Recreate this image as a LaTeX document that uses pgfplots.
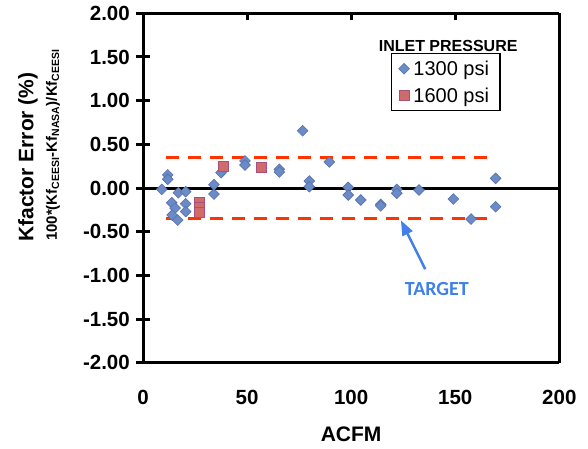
\documentclass[border=0pt]{standalone}
\usepackage{pgfplots}
\pgfplotsset{compat=1.18}
\usepackage{fontspec}
\setmainfont{Liberation Sans}
\newfontfamily\calibri{Carlito}
\usetikzlibrary{arrows.meta}
\definecolor{ptblue}{HTML}{6B8BC6}
\definecolor{ptblueedge}{HTML}{5770AE}
\definecolor{ptred}{HTML}{CF6B6B}
\definecolor{ptrededge}{HTML}{A8507A}
\definecolor{tgtred}{HTML}{FF3300}
\definecolor{tgtblue}{HTML}{4080E8}

\begin{document}
\begin{tikzpicture}
\useasboundingbox (-143pt,-85.3pt) rectangle (445pt,362.7pt);
\begin{axis}[
  at={(0pt,0pt)}, anchor=south west,
  scale only axis, width=416.3pt, height=349.4pt,
  xmin=0, xmax=200, ymin=-2, ymax=2,
  separate axis lines,
  axis line style={line width=3pt, black},
  xtick={0,50,100,150,200}, xticklabels={0,50,100,150,200},
  ytick={-2,-1.5,-1,-0.5,0,0.5,1,1.5,2},
  yticklabels={-2.00,-1.50,-1.00,-0.50,0.00,0.50,1.00,1.50,2.00},
  ytick pos=left, xtick pos=bottom,
  tick align=center, major tick length=14pt,
  major tick style={line width=3pt, black},
  x tick style={draw=none},
  ticklabel style={font=\fontsize{20.5}{22}\selectfont\bfseries},
  xticklabel style={anchor=center, yshift=-28pt},
  yticklabel style={anchor=east, inner sep=0pt, xshift=-6pt},
  xlabel={ACFM},
  xlabel style={font=\fontsize{21}{24}\selectfont\bfseries, at={(axis description cs:0.5,-0.206)}, anchor=center},
  legend style={at={(rel axis cs:0.596,0.886)}, anchor=north west, draw=black, line width=1.2pt,
    font=\fontsize{20}{22}\selectfont, inner xsep=7pt, inner ysep=5pt, row sep=7pt,
    nodes={inner xsep=4pt}},
  legend cell align=left,
]
% zero line with crossing ticks
\draw[line width=3pt] (axis cs:0,0) -- (axis cs:200,0);
\draw[line width=3pt] (axis cs:50,0) ++(0,-7pt) -- ++(0,14pt);
\draw[line width=3pt] (axis cs:100,0) ++(0,-7pt) -- ++(0,14pt);
\draw[line width=3pt] (axis cs:150,0) ++(0,-7pt) -- ++(0,14pt);
\draw[line width=3pt] (axis cs:200,0) ++(0,-7pt) -- ++(0,14pt);

% target band
\addplot[forget plot, tgtred, line width=3pt, dash pattern=on 13pt off 9pt]
  coordinates {(11,0.35) (169.5,0.35)};
\addplot[forget plot, tgtred, line width=3pt, dash pattern=on 13pt off 9pt]
  coordinates {(11,-0.35) (169.5,-0.35)};

\addplot[only marks, mark=square*, mark size=3.8pt,
  mark options={rotate=45, fill=ptblue, draw=ptblueedge, line width=0.6pt}]
  coordinates {
  (9,-0.015) (11.9,0.15) (11.9,0.10) (17,-0.054) (20.5,-0.042)
  (13.8,-0.168) (15.4,-0.23) (20.5,-0.18) (20.5,-0.27) (14,-0.31)
  (16.7,-0.367) (34.1,0.038) (34.1,-0.069) (37.5,0.175) (49,0.31)
  (49,0.263) (65.5,0.214) (65.5,0.183) (76.7,0.656) (79.9,0.08)
  (79.9,0.015) (89.5,0.298) (98.6,0.008) (98.6,-0.08) (104.6,-0.137)
  (114.2,-0.187) (114.2,-0.205) (121.9,-0.015) (121.9,-0.06) (132.6,-0.023)
  (149.1,-0.126) (157.6,-0.355) (169.4,0.11) (169.4,-0.214)
  };
\addlegendentry{1300 psi}
\addplot[only marks, mark=square*, mark size=5pt,
  mark options={fill=ptred, draw=ptrededge, line width=1pt}]
  coordinates {(27,-0.17) (27,-0.22) (27,-0.28) (38.6,0.25) (57,0.23)};
\addlegendentry{1600 psi}

\node[font=\fontsize{16}{18}\selectfont\bfseries] at (rel axis cs:0.733,0.906) {INLET PRESSURE};
\draw[tgtblue, line width=2.5pt, -{Triangle[length=15pt,width=11pt]}]
  (axis cs:135.6,-0.93) -- (axis cs:123.9,-0.37);
\node[font=\calibri\bfseries\fontsize{20}{24}\selectfont, text=tgtblue] at (axis cs:141.2,-1.16) {TARGET};
\end{axis}
\node[rotate=90, font=\fontsize{21}{24}\selectfont\bfseries] at (-115pt,205.7pt) {Kfactor Error (\%)};
\node[rotate=90, font=\fontsize{15}{18}\selectfont\bfseries] at (-90pt,217.7pt)
  {100*(Kf\textsubscript{CEESI}-Kf\textsubscript{NASA})/Kf\textsubscript{CEESI}};
\end{tikzpicture}
\end{document}
